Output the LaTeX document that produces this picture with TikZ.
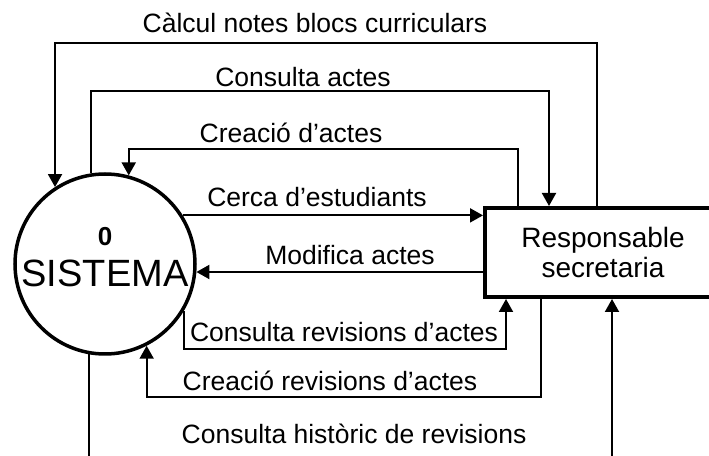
\documentclass[tikz,border=0pt]{standalone}
\usepackage{fontspec}
\setmainfont{Liberation Sans}
\usetikzlibrary{arrows.meta}

\begin{document}
\begin{tikzpicture}[x=1pt,y=1pt,
        flow/.style={line width=2pt,-{Triangle[length=13pt,width=14pt]}},
        lbl/.style={anchor=base,inner sep=0pt,font=\fontsize{26.5}{30}\selectfont},
        proc/.style={circle,draw,line width=3.5pt,minimum size=180pt,inner sep=0pt},
        ent/.style={rectangle,draw,line width=4pt,minimum width=236pt,minimum height=89pt,
            inner sep=0pt,align=center,font=\fontsize{28}{30}\selectfont}]
        \useasboundingbox (0,0) rectangle (709,455);
        \clip (0,0) rectangle (709,455);

        \node[proc](sis) at (105,191){};
        \node[anchor=base,inner sep=0pt,font=\fontsize{26}{26}\selectfont\bfseries](num) at (105,209){0};
        \node[anchor=base,inner sep=0pt,font=\fontsize{38}{40}\selectfont](nom) at (105,168){SISTEMA};
        \node[ent](res) at (603,202.5){Responsable\\secretaria};

        \coordinate(k1) at (597,412);
        \coordinate(k2) at (549,364);
        \coordinate(k3) at (518,306);
        \coordinate(k6) at (506,106);
        \coordinate(k7) at (541,58);
        \coordinate(k8) at (612,-30);

        \draw[flow] (k1 |- res.north) -- (k1) -| (sis.123.8);
        \draw[flow] (sis.99.6) |- (k2) -- (k2 |- res.north);
        \draw[flow] (k3 |- res.north) -- (k3) -| (sis.75.2);
        \draw[flow] (sis.32.2) -- (sis.32.2 -| res.west);
        \draw[flow] (sis.-5 -| res.west) -- (sis.-5);
        \draw[flow] (sis.-31.2) |- (k6) -- (k6 |- res.south);
        \draw[flow] (k7 |- res.south) -- (k7) -| (sis.-63.6);
        \draw[flow] (sis.-100.9) |- (k8) -- (k8 |- res.south);

        \node[lbl](t1) at (315,422){Càlcul notes blocs curriculars};
        \node[lbl](t2) at (303,368){Consulta actes};
        \node[lbl](t3) at (291,312){Creació d’actes};
        \node[lbl](t4) at (317,248){Cerca d’estudiants};
        \node[lbl](t5) at (350,190){Modifica actes};
        \node[lbl](t6) at (344,113){Consulta revisions d’actes};
        \node[lbl](t7) at (330,64){Creació revisions d’actes};
        \node[lbl](t8) at (354,12){Consulta històric de revisions};
    \end{tikzpicture}
\end{document}
